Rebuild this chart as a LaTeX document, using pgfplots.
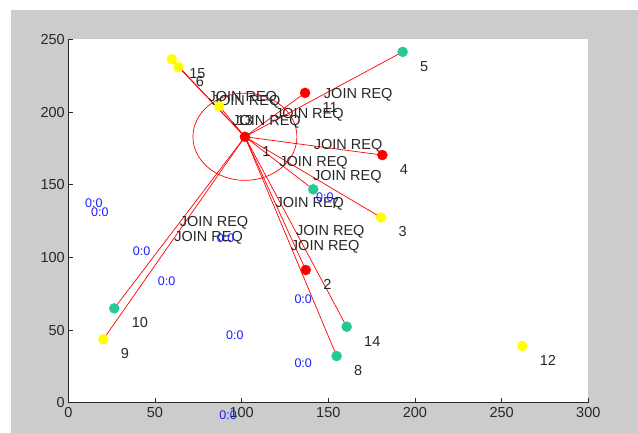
\documentclass[border=0pt]{standalone}
\usepackage{pgfplots}
\pgfplotsset{compat=1.18}
\usepackage{fontspec}
\setmainfont{Liberation Sans}
\definecolor{figgrey}{RGB}{204,204,204}
\definecolor{tealc}{RGB}{40,200,150}
\definecolor{ylw}{RGB}{255,255,0}
\definecolor{axgrey}{RGB}{40,40,40}
\definecolor{lblblue}{RGB}{30,30,255}
\newcommand{\lfont}{\fontsize{14.5}{16}\selectfont}
\newcommand{\sfont}{\fontsize{12.5}{14}\selectfont}
\begin{document}
\begin{tikzpicture}[x=1pt,y=1pt]
\useasboundingbox (0,0) rectangle (638,433);
\fill[white] (0,0) rectangle (638,433);
\fill[figgrey] (11,0) rectangle (638,423);
\begin{axis}[
  at={(68.3pt,30.3pt)}, anchor=south west,
  scale only axis, width=520pt, height=363.3pt,
  xmin=0, xmax=300, ymin=0, ymax=250,
  xtick={0,50,...,300}, ytick={0,50,...,250},
  axis x line*=bottom, axis y line*=left,
  axis line style={-, draw=axgrey, line width=0.8pt},
  tick align=inside, major tick length=5pt,
  tick style={draw=axgrey, line width=0.8pt},
  axis background/.style={fill=white},
  ticklabel style={font=\lfont, text=axgrey},
  xticklabel style={yshift=-1.5pt},
  /pgf/number format/assume math mode=true,
  clip=false,
]
% nodes
\addplot[only marks, mark=*, mark size=5pt, mark options={draw=ylw, fill=ylw}] coordinates {
(180.4,127.5) (63.5,231) (20.2,43.6) (261.9,39) (87.1,204) (59.7,236.4)};
\addplot[only marks, mark=*, mark size=5pt, mark options={draw=tealc, fill=tealc}] coordinates {
(192.9,241.4) (141.3,146.8) (154.8,32.1) (26.5,64.9) (160.6,52.3)};
\addplot[only marks, mark=*, mark size=5pt, mark options={draw=red, fill=red}] coordinates {
(101.9,183) (137.0,91.3) (181.2,170.4) (136.6,213.2)};
% links from cluster head 1
\addplot[red, line width=0.7pt, no marks] coordinates {(101.9,183) (137.0,91.3)};
\addplot[red, line width=0.7pt, no marks] coordinates {(101.9,183) (180.4,127.5)};
\addplot[red, line width=0.7pt, no marks] coordinates {(101.9,183) (181.2,170.4)};
\addplot[red, line width=0.7pt, no marks] coordinates {(101.9,183) (192.9,241.4)};
\addplot[red, line width=0.7pt, no marks] coordinates {(101.9,183) (63.5,231)};
\addplot[red, line width=0.7pt, no marks] coordinates {(101.9,183) (141.3,146.8)};
\addplot[red, line width=0.7pt, no marks] coordinates {(101.9,183) (154.8,32.1)};
\addplot[red, line width=0.7pt, no marks] coordinates {(101.9,183) (20.2,43.6)};
\addplot[red, line width=0.7pt, no marks] coordinates {(101.9,183) (26.5,64.9)};
\addplot[red, line width=0.7pt, no marks] coordinates {(101.9,183) (136.6,213.2)};
\addplot[red, line width=0.7pt, no marks] coordinates {(101.9,183) (87.1,204)};
\addplot[red, line width=0.7pt, no marks] coordinates {(101.9,183) (160.6,52.3)};
\addplot[red, line width=0.7pt, no marks] coordinates {(101.9,183) (59.7,236.4)};
\draw[red, line width=0.7pt] (axis cs:101.9,183) ellipse [x radius=30, y radius=30];
% node numbers
\begin{scope}[every node/.style={anchor=west, inner sep=0pt, font=\lfont, text=axgrey}]
\node at (axis cs:111.9,173) {1};
\node at (axis cs:147.0,81.3) {2};
\node at (axis cs:190.4,117.5) {3};
\node at (axis cs:191.2,160.4) {4};
\node at (axis cs:202.9,231.4) {5};
\node at (axis cs:73.5,221) {6};
\node at (axis cs:151.3,136.8) {7};
\node at (axis cs:164.8,22.1) {8};
\node at (axis cs:30.2,33.6) {9};
\node at (axis cs:36.5,54.9) {10};
\node at (axis cs:146.6,203.2) {11};
\node at (axis cs:271.9,29) {12};
\node at (axis cs:97.1,194) {13};
\node at (axis cs:170.6,42.3) {14};
\node at (axis cs:69.7,226.4) {15};
% JOIN REQ messages
\node at (axis cs:119.45,137.15) {JOIN REQ};
\node at (axis cs:141.15,155.25) {JOIN REQ};
\node at (axis cs:141.55,176.7) {JOIN REQ};
\node at (axis cs:147.4,212.2) {JOIN REQ};
\node at (axis cs:82.7,207) {JOIN REQ};
\node at (axis cs:121.6,164.9) {JOIN REQ};
\node at (axis cs:128.35,107.55) {JOIN REQ};
\node at (axis cs:61.05,113.3) {JOIN REQ};
\node at (axis cs:64.2,123.95) {JOIN REQ};
\node at (axis cs:119.25,198.1) {JOIN REQ};
\node at (axis cs:94.5,193.5) {JOIN REQ};
\node at (axis cs:131.25,117.65) {JOIN REQ};
\node at (axis cs:80.8,209.7) {JOIN REQ};
\end{scope}
% 0:0 labels
\begin{scope}[every node/.style={anchor=west, inner sep=0pt, font=\sfont, text=lblblue}]
\node at (axis cs:9.6,137.2) {0:0};
\node at (axis cs:13.1,131.4) {0:0};
\node at (axis cs:37.2,104.4) {0:0};
\node at (axis cs:51.6,83.3) {0:0};
\node at (axis cs:85.6,113.1) {0:0};
\node at (axis cs:91.0,46.6) {0:0};
\node at (axis cs:130.4,71.1) {0:0};
\node at (axis cs:130.4,27.5) {0:0};
\node at (axis cs:87.1,-8.5) {0:0};
\node at (axis cs:142.9,141.7) {0:0};
\end{scope}
\end{axis}
\end{tikzpicture}
\end{document}
